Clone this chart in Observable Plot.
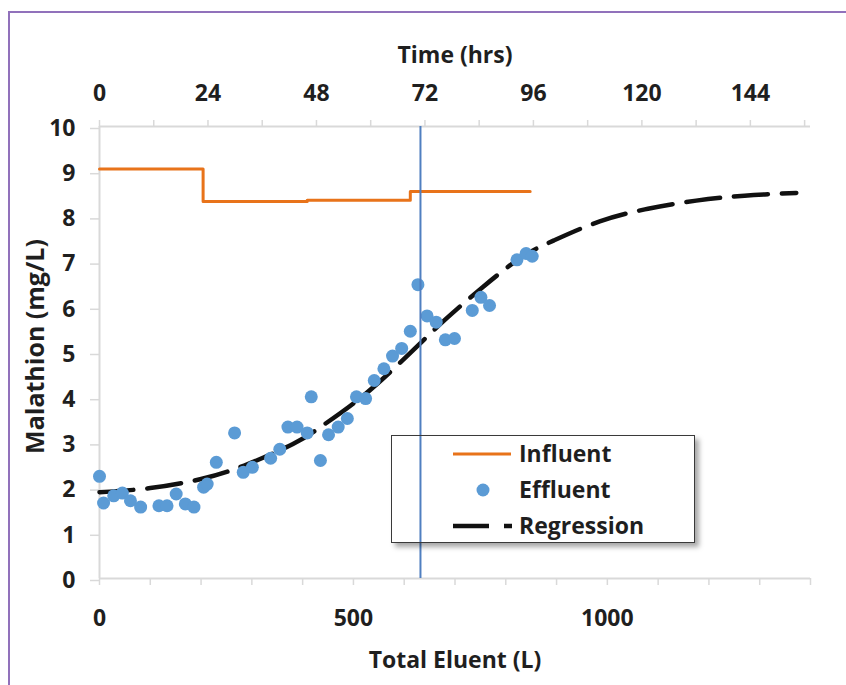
<!DOCTYPE html>
<html><head><meta charset="utf-8">
<script src="https://cdn.jsdelivr.net/npm/d3@7"></script>
<script src="https://cdn.jsdelivr.net/npm/@observablehq/plot@0.6"></script>
<style>
body{margin:0;background:#fff;}
#wrap{position:relative;width:846px;height:685px;overflow:hidden;font-family:"Open Sans",sans-serif;}
#chart{position:absolute;left:0;top:0;}
#frame{position:absolute;left:8px;top:11px;width:900px;height:900px;border-left:2px solid #9171bb;border-top:2px solid #9171bb;pointer-events:none;}
#legend{position:absolute;left:391px;top:435px;width:302px;height:106px;border:1.5px solid #3a3a3a;box-shadow:4px 4px 5px rgba(0,0,0,0.35);}
</style></head><body>
<div id="wrap"><div id="chart"></div><div id="frame"></div><div id="legend"></div></div>
<script>
// Influent (step line)
const influentL = [0, 204, 409, 612, 848];
const influentV = [9.06, 8.34, 8.37, 8.56, 8.56];
// Effluent (points)
const effluentL = [0, 8, 28, 45, 61, 81, 117, 133, 151, 169, 186, 205, 212, 230, 266, 283, 301, 337, 355, 371, 389, 409, 417, 435, 451, 470, 488, 506, 524, 541, 560, 577, 595, 612, 627, 645, 663, 681, 699, 734, 751, 768, 822, 840, 852];
const effluentV = [2.26, 1.67, 1.83, 1.89, 1.72, 1.58, 1.61, 1.61, 1.87, 1.65, 1.58, 2.02, 2.09, 2.57, 3.22, 2.35, 2.46, 2.66, 2.86, 3.35, 3.35, 3.22, 4.02, 2.61, 3.18, 3.35, 3.54, 4.02, 3.98, 4.38, 4.64, 4.92, 5.09, 5.47, 6.5, 5.81, 5.67, 5.28, 5.31, 5.93, 6.22, 6.04, 7.05, 7.19, 7.13];
// Regression curve
const regressionL = [0, 100, 200, 285, 380, 435, 520, 610, 680, 755, 830, 895, 985, 1080, 1175, 1270, 1372];
const regressionV = [1.91, 2.0, 2.2, 2.5, 2.97, 3.35, 4.05, 4.97, 5.72, 6.45, 7.1, 7.48, 7.9, 8.18, 8.36, 8.47, 8.53];
// Vertical marker (Total Eluent, L)
const markerL = [632];
// Axes
const yTicks = [0, 1, 2, 3, 4, 5, 6, 7, 8, 9, 10];
const xTicks = [0, 100, 200, 300, 400, 500, 600, 700, 800, 900, 1000, 1100, 1200, 1300, 1400];
const xLabels = [0, 500, 1000];
const hrTicks = [0, 12, 24, 36, 48, 60, 72, 84, 96, 108, 120, 132, 144, 156];
const hrLabels = [0, 24, 48, 72, 96, 120, 144];
const litersPerHour = 8.9;
const seriesNames = ["Influent", "Effluent", "Regression"];
const colors = {Influent: "#e8731a", Effluent: "#5b9bd5", Regression: "#111111", marker: "#4f7fc0", axis: "#d9d9d9", text: "#1f1f1f"};

const influent = influentL.map((l, i) => ({l, v: influentV[i]}));
const effluent = effluentL.map((l, i) => ({l, v: effluentV[i]}));
const regression = regressionL.map((l, i) => ({l, v: regressionV[i]}));
const fontTick = {fontSize: 23, fontWeight: "bold", fill: colors.text};

const chart = Plot.plot({
  width: 846, height: 685,
  marginLeft: 99, marginRight: 36, marginTop: 126, marginBottom: 107,
  x: {domain: [0, 1400]},
  y: {domain: [0, 10]},
  style: {fontFamily: "Open Sans", color: colors.text, background: "transparent", overflow: "visible"},
  marks: [
    Plot.ruleY([0, 10], {stroke: colors.axis, strokeWidth: 2}),
    Plot.ruleX([0], {stroke: colors.axis, strokeWidth: 2}),
    Plot.axisY({ticks: yTicks, tickSize: 9, tickPadding: 15, stroke: colors.axis, strokeWidth: 1.5, tickFormat: d => String(d), label: null, dy: 2, ...fontTick}),
    Plot.axisX({anchor: "bottom", ticks: xTicks, tickSize: 7, tickPadding: 24, stroke: colors.axis, strokeWidth: 1.5, tickFormat: d => xLabels.includes(d) ? String(d) : "", label: null, ...fontTick}),
    Plot.axisX({anchor: "top", ticks: hrTicks.map(h => h * litersPerHour), tickSize: 7, tickPadding: 19, stroke: colors.axis, strokeWidth: 1.5, tickFormat: d => { const h = Math.round(d / litersPerHour); return hrLabels.includes(h) ? String(h) : ""; }, label: null, ...fontTick}),
    Plot.text(["Malathion (mg/L)"], {frameAnchor: "left", textAnchor: "middle", lineAnchor: "middle", rotate: -90, dx: -64, dy: -6, fontSize: 25, fontWeight: "bold", fill: colors.text}),
    Plot.text(["Time (hrs)"], {frameAnchor: "top", lineAnchor: "middle", dy: -71, fontSize: 23, fontWeight: "bold", fill: colors.text}),
    Plot.text(["Total Eluent (L)"], {frameAnchor: "bottom", lineAnchor: "middle", dy: 82, fontSize: 23, fontWeight: "bold", fill: colors.text}),
    Plot.line(influent, {x: "l", y: "v", curve: "step-after", stroke: colors.Influent, strokeWidth: 3}),
    Plot.line(regression, {x: "l", y: "v", curve: "natural", stroke: colors.Regression, strokeWidth: 4.5, strokeDasharray: "34 14"}),
    Plot.dot(effluent, {x: "l", y: "v", r: 6.5, fill: colors.Effluent, stroke: "none"}),
    Plot.ruleX(markerL, {y1: 0, y2: 10, stroke: colors.marker, strokeWidth: 2})
  ]
});
document.getElementById("chart").append(chart);

// Legend
const ns = "http://www.w3.org/2000/svg";
const lg = document.createElementNS(ns, "svg");
lg.setAttribute("width", 302); lg.setAttribute("height", 106);
lg.style.display = "block";
const rowY = [18, 54, 90];
function el(tag, attrs) { const e = document.createElementNS(ns, tag); for (const k in attrs) e.setAttribute(k, attrs[k]); lg.append(e); return e; }
seriesNames.forEach((name, i) => {
  const y = rowY[i];
  if (name === "Influent") el("line", {x1: 61, x2: 119, y1: y, y2: y, stroke: colors.Influent, "stroke-width": 3});
  if (name === "Effluent") el("circle", {cx: 91, cy: y, r: 6.5, fill: colors.Effluent});
  if (name === "Regression") { el("line", {x1: 61, x2: 120, y1: y, y2: y, stroke: colors.Regression, "stroke-width": 4.5, "stroke-dasharray": "36 15"}); }
  const t = el("text", {x: 127, y: y, dy: "0.36em", "font-family": "Open Sans", "font-size": 23, "font-weight": "bold", fill: colors.text});
  t.textContent = name;
});
document.getElementById("legend").append(lg);
</script>
</body></html>
